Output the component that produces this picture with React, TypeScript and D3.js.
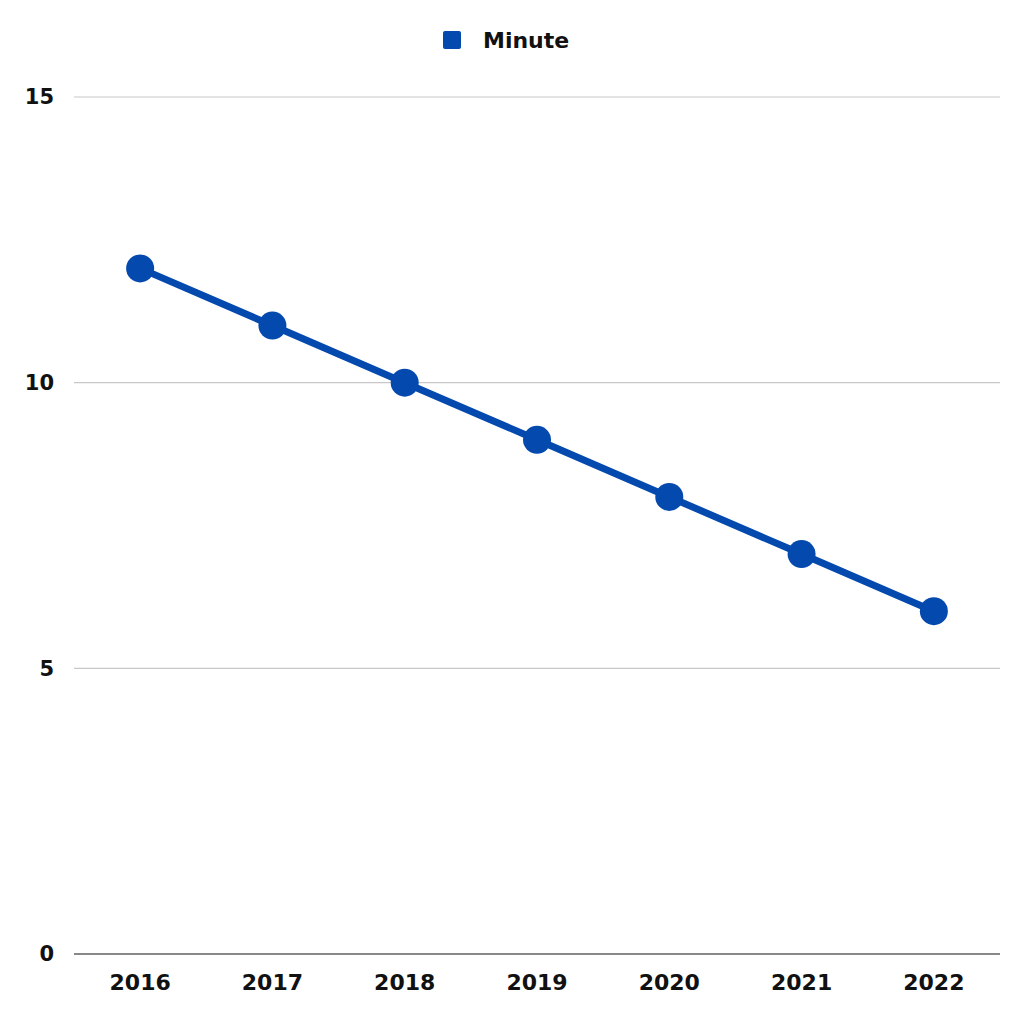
import React from "react";
import * as d3 from "d3";

const years = ["2016", "2017", "2018", "2019", "2020", "2021", "2022"];
const minutes = [12, 11, 10, 9, 8, 7, 6];
const yTicks = [0, 5, 10, 15];
const seriesName = "Minute";

export default function App() {
  const W = 1024, H = 1024;
  const left = 74, right = 1000, top = 97, bottom = 954;
  const x = d3.scaleBand<string>().domain(years).range([left, right]).padding(0);
  const y = d3.scaleLinear().domain([0, 15]).range([bottom, top]);
  const color = "#0449AD";
  const font = "'DejaVu Sans', 'Open Sans', sans-serif";
  const line = d3.line<number>()
    .x((_, i) => (x(years[i]) as number) + x.bandwidth() / 2)
    .y((d) => y(d));
  return (
    <svg width={W} height={H} style={{ position: "absolute", left: 0, top: 0, background: "#fff" }} fontFamily={font}>
      <rect x={0} y={0} width={W} height={H} fill="#fff" />
      {yTicks.map((t) => (
        <g key={t}>
          {t !== 0 && <line x1={left} x2={right} y1={y(t)} y2={y(t)} stroke="#c8c8c8" strokeWidth={1.2} />}
          <text x={54} y={y(t)} dy="0.35em" textAnchor="end" fontSize={21} fontWeight={700} fill="#111">{t}</text>
        </g>
      ))}
      <line x1={left} x2={right} y1={y(0)} y2={y(0)} stroke="#888" strokeWidth={2} />
      {years.map((yr) => (
        <text key={yr} x={(x(yr) as number) + x.bandwidth() / 2} y={990} textAnchor="middle" fontSize={22} fontWeight={700} fill="#111">{yr}</text>
      ))}
      <path d={line(minutes) || ""} fill="none" stroke={color} strokeWidth={7} />
      {minutes.map((v, i) => (
        <circle key={i} cx={(x(years[i]) as number) + x.bandwidth() / 2} cy={y(v)} r={14} fill={color} />
      ))}
      <rect x={443} y={31} width={18} height={18} rx={2} fill={color} />
      <text x={483} y={40} dy="0.35em" fontSize={22} fontWeight={700} fill="#111">{seriesName}</text>
    </svg>
  );
}
